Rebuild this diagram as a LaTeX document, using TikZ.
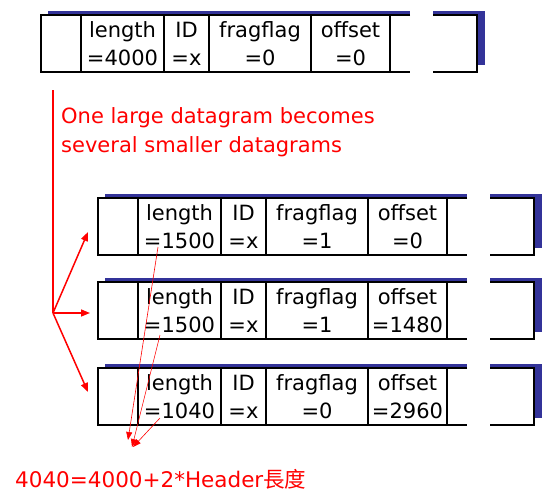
\documentclass[tikz,border=0pt]{standalone}
\usepackage{fontspec}
\setmainfont{DejaVu Sans}
\newfontfamily\cjkfont{Noto Sans CJK TC}
\usetikzlibrary{arrows.meta}
\definecolor{shadowblue}{RGB}{51,51,153}
\tikzset{
  cell/.style={align=center, inner sep=0pt, font=\fontsize{21}{28}\selectfont},
  frame/.style={line width=1.5pt},
  bluebar/.style={fill=shadowblue},
  note/.style={text=red, align=left, inner sep=0pt, font=\fontsize{21}{29}\selectfont},
  split/.style={red, line width=1.5pt, -{Triangle[length=9pt,width=7pt]}},
  sum/.style={red, line width=0.6pt, -{Triangle[length=8pt,width=6pt]}},
}
% one datagram: name, length, fragflag, offset
\newcommand{\datagram}[4]{
  \fill[bluebar] (7,-4) rectangle (369,0);
  \fill[bluebar] (392,-4) rectangle (444,0);
  \fill[bluebar] (436,-4) rectangle (444,50);
  \draw[frame] (369,0) -- (0,0) -- (0,57) -- (369,57);
  \draw[frame] (392,0) -- (436,0) -- (436,57) -- (392,57);
  \foreach \x in {40,123,168,270,349}
    \draw[frame] (\x,0) -- (\x,57);
  \coordinate (#1) at (0,28.5);
  \node[cell] (#1len) at (81.5,28.5) {length\\=#2};
  \node[cell] (#1id) at (145.5,28.5) {ID\\=x};
  \node[cell] (#1flag) at (219,28.5) {fragflag\\=#3};
  \node[cell] (#1off) at (309.5,28.5) {offset\\=#4};
}
\begin{document}
\begin{tikzpicture}[x=1pt,y=-1pt]
  \useasboundingbox (0,0) rectangle (544,493);
  \begin{scope}[shift={(41,15)}]
    \datagram{d0}{4000}{0}{0}
  \end{scope}
  \begin{scope}[shift={(98,198)}]
    \datagram{d1}{1500}{1}{0}
  \end{scope}
  \begin{scope}[shift={(98,282)}]
    \datagram{d2}{1500}{1}{1480}
  \end{scope}
  \begin{scope}[shift={(98,368)}]
    \datagram{d3}{1040}{0}{2960}
  \end{scope}

  \node[note, anchor=west] (note) at (61,132)
    {One large datagram becomes\\several smaller datagrams};

  \coordinate (start) at (53,90);
  \coordinate (fork) at (53,313);
  \coordinate (to1) at (88,232);
  \coordinate (to2) at (90,313);
  \coordinate (to3) at (88,392);
  \draw[red, line width=1.5pt] (start) -- (fork);
  \draw[split] (fork) -- (to1);
  \draw[split] (fork) -- (to2);
  \draw[split] (fork) -- (to3);

  \node[text=red, inner sep=0pt, anchor=base west, font=\fontsize{21.5}{26}\selectfont]
    (total) at (15,487) {4040=4000+2*Header{\cjkfont 長度}};

  \coordinate (from1) at (158,247);
  \coordinate (from2) at (160,335);
  \coordinate (from3) at (160,418);
  \coordinate (end1) at (128,440);
  \coordinate (end2) at (132,447);
  \coordinate (end3) at (133,447);
  \draw[sum] (from1) -- (end1);
  \draw[sum] (from2) -- (end2);
  \draw[sum] (from3) -- (end3);
\end{tikzpicture}
\end{document}
